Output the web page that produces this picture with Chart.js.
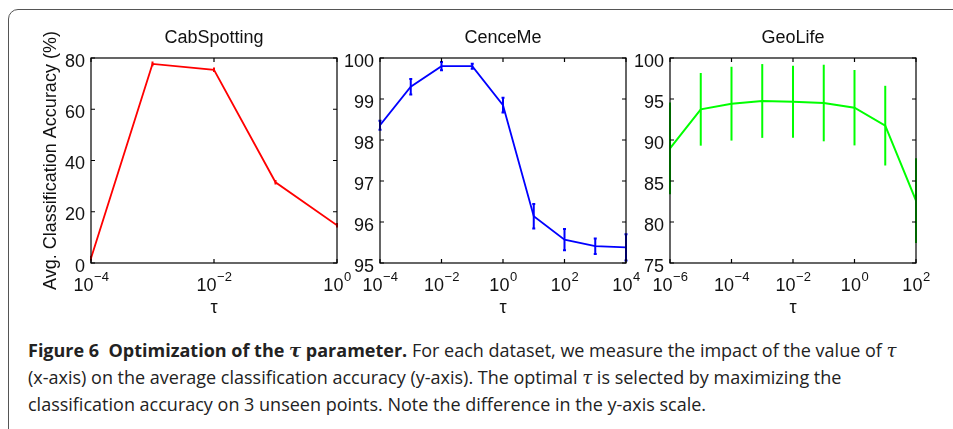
<!DOCTYPE html>
<html>
<head>
<meta charset="utf-8">
<script src="https://cdn.jsdelivr.net/npm/chart.js@4.4.1/dist/chart.umd.min.js"></script>
<style>
  body { margin: 0; width: 953px; height: 429px; overflow: hidden; background: #fff; position: relative; }
  .frame { position: absolute; left: 8px; top: 9px; width: 970px; height: 440px; border: 1.5px solid #555; border-radius: 10px; box-sizing: border-box; }
  canvas { position: absolute; }
  .caption { position: absolute; left: 28px; top: 337px; font-family: "Open Sans", sans-serif; font-size: 18px; line-height: 26px; color: #222; white-space: nowrap; }
  .caption b { font-weight: 700; }
  .caption i { font-style: italic; font-weight: 700; font-family: "DejaVu Serif", serif; }
</style>
</head>
<body>
<div class="frame"></div>
<canvas id="cabChart" width="357" height="325" style="left:0px; top:0px"></canvas>
<canvas id="cenceChart" width="316" height="325" style="left:330px; top:0px"></canvas>
<canvas id="geoChart" width="316" height="325" style="left:620px; top:0px"></canvas>
<div class="caption">
  <b>Figure 6&nbsp; Optimization of the <i>τ</i> parameter.</b> For each dataset, we measure the impact of the value of <i style="font-weight:400">τ</i><br>
  (x-axis) on the average classification accuracy (y-axis). The optimal <i style="font-weight:400">τ</i> is selected by maximizing the<br>
  classification accuracy on 3 unseen points. Note the difference in the y-axis scale.
</div>
<script>
// CabSpotting
const cabTau = [1e-4, 1e-3, 1e-2, 1e-1, 1];
const cabAcc = [1.9, 77.7, 75.4, 31.5, 14.7];
const cabErr = [0.5, 0.5, 0.5, 0.5, 0.5];
const cabXExp = [-4, -2, 0];
const cabYTicks = [0, 20, 40, 60, 80];

// CenceMe
const cenceTau = [1e-4, 1e-3, 1e-2, 1e-1, 1, 1e1, 1e2, 1e3, 1e4];
const cenceAcc = [98.36, 99.30, 99.80, 99.80, 98.85, 96.14, 95.57, 95.41, 95.38];
const cenceErr = [0.11, 0.19, 0.1, 0.06, 0.18, 0.3, 0.26, 0.19, 0.32];
const cenceXExp = [-4, -2, 0, 2, 4];
const cenceYTicks = [95, 96, 97, 98, 99, 100];

// GeoLife
const geoTau = [1e-6, 1e-5, 1e-4, 1e-3, 1e-2, 1e-1, 1, 1e1, 1e2];
const geoAcc = [88.98, 93.74, 94.43, 94.76, 94.67, 94.51, 93.94, 91.75, 82.6];
const geoErr = [5.6, 4.43, 4.5, 4.5, 4.4, 4.67, 4.6, 4.86, 5.16];
const geoXExp = [-6, -4, -2, 0, 2];
const geoYTicks = [75, 80, 85, 90, 95, 100];

const FONT = '"Liberation Sans", Arial, sans-serif';

// MATLAB-like box axes, inward ticks, 10^n labels, error bars
const matlabAxes = {
    id: 'matlabAxes',
    afterDatasetsDraw(chart, args, opts) {
        const ctx = chart.ctx;
        const { left, right, top, bottom } = chart.chartArea;
        const xs = chart.scales.x;
        const ys = chart.scales.y;
        const ds = chart.data.datasets[0];

        // error bars
        ctx.save();
        ctx.strokeStyle = ds.borderColor;
        ctx.lineWidth = opts.errWidth;
        opts.err.forEach((e, i) => {
            const px = xs.getPixelForValue(ds.data[i].x);
            const y1 = ys.getPixelForValue(ds.data[i].y - e);
            const y2 = ys.getPixelForValue(ds.data[i].y + e);
            ctx.beginPath();
            ctx.moveTo(px, y1);
            ctx.lineTo(px, y2);
            if (opts.cap) {
                ctx.moveTo(px - opts.cap, y1);
                ctx.lineTo(px + opts.cap, y1);
                ctx.moveTo(px - opts.cap, y2);
                ctx.lineTo(px + opts.cap, y2);
            }
            ctx.stroke();
        });
        ctx.restore();

        ctx.save();
        ctx.strokeStyle = '#000';
        ctx.lineWidth = 1.2;
        ctx.strokeRect(left, top, right - left, bottom - top);

        // ticks
        ctx.beginPath();
        opts.xExp.forEach(p => {
            const px = xs.getPixelForValue(Math.pow(10, p));
            ctx.moveTo(px, bottom);
            ctx.lineTo(px, bottom - 4);
            ctx.moveTo(px, top);
            ctx.lineTo(px, top + 4);
        });
        opts.yTicks.forEach(v => {
            const py = ys.getPixelForValue(v);
            ctx.moveTo(left, py);
            ctx.lineTo(left + 4, py);
            ctx.moveTo(right, py);
            ctx.lineTo(right - 4, py);
        });
        ctx.stroke();

        ctx.fillStyle = '#111';
        // y tick labels
        ctx.font = '18px ' + FONT;
        ctx.textAlign = 'right';
        ctx.textBaseline = 'alphabetic';
        opts.yTicks.forEach(v => {
            ctx.fillText(String(v), left - 6, ys.getPixelForValue(v) + 8.5);
        });

        // x tick labels 10^n
        ctx.textAlign = 'left';
        opts.xExp.forEach(p => {
            const px = xs.getPixelForValue(Math.pow(10, p));
            const exp = p < 0 ? '\u2212' + Math.abs(p) : String(p);
            ctx.font = '18px ' + FONT;
            const wBase = ctx.measureText('10').width;
            ctx.font = '13px ' + FONT;
            const wExp = ctx.measureText(exp).width;
            const x0 = px - (wBase + wExp) / 2;
            ctx.font = '18px ' + FONT;
            ctx.fillText('10', x0, bottom + 28);
            ctx.font = '13px ' + FONT;
            ctx.fillText(exp, x0 + wBase + 0.5, bottom + 18);
        });

        // title and x label
        ctx.font = '18px ' + FONT;
        ctx.textAlign = 'center';
        ctx.fillText(opts.title, (left + right) / 2, top - 15);
        ctx.fillText('τ', (left + right) / 2, bottom + 50);

        if (opts.yLabel) {
            ctx.translate(56, (top + bottom) / 2);
            ctx.rotate(-Math.PI / 2);
            ctx.fillText(opts.yLabel, 0, 0);
        }
        ctx.restore();
    }
};

function makePanel(id, tau, acc, err, color, lineWidth, xMin, xMax, yTicks, xExp, title, yLabel, padLeft, cap) {
    const ctx = document.getElementById(id).getContext('2d');
    return new Chart(ctx, {
        type: 'line',
        data: {
            datasets: [{
                data: tau.map((t, i) => ({ x: t, y: acc[i] })),
                borderColor: color,
                borderWidth: lineWidth,
                pointRadius: 0,
                tension: 0,
                fill: false
            }]
        },
        options: {
            responsive: false,
            animation: false,
            layout: { padding: { left: padLeft, top: 58, right: 20, bottom: 62 } },
            scales: {
                x: {
                    type: 'logarithmic', min: xMin, max: xMax,
                    grid: { display: false }, border: { display: false }, ticks: { display: false },
                    afterFit: s => { s.height = 0; }
                },
                y: {
                    min: yTicks[0], max: yTicks[yTicks.length - 1],
                    grid: { display: false }, border: { display: false }, ticks: { display: false },
                    afterFit: s => { s.width = 0; }
                }
            },
            plugins: {
                legend: { display: false },
                tooltip: { enabled: false },
                matlabAxes: { err: err, errWidth: 2, cap: cap, xExp: xExp, yTicks: yTicks, title: title, yLabel: yLabel }
            }
        },
        plugins: [matlabAxes]
    });
}

makePanel('cabChart', cabTau, cabAcc, cabErr, '#ff0000', 1.8, 1e-4, 1, cabYTicks, cabXExp,
    'CabSpotting', 'Avg. Classification Accuracy (%)', 91, 1);
makePanel('cenceChart', cenceTau, cenceAcc, cenceErr, '#0000ff', 1.8, 1e-4, 1e4, cenceYTicks, cenceXExp,
    'CenceMe', null, 50, 1.5);
makePanel('geoChart', geoTau, geoAcc, geoErr, '#00ff00', 2, 1e-6, 1e2, geoYTicks, geoXExp,
    'GeoLife', null, 50, 0);
</script>
</body>
</html>
